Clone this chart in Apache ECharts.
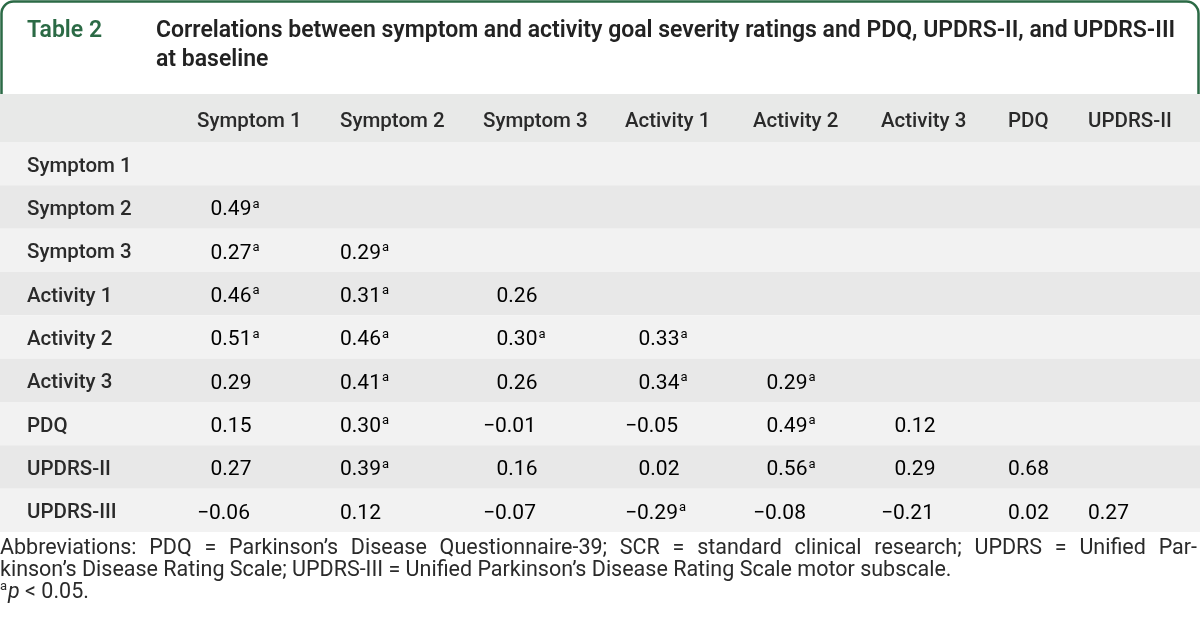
<!DOCTYPE html>
<html><head><meta charset="utf-8">
<script src="https://cdn.jsdelivr.net/npm/echarts@6/dist/echarts.min.js"></script>
<style>html,body{margin:0;padding:0;background:#fff}#c{width:1200px;height:635px}</style>
</head><body><div id="c"></div>
<script>
// ---- data ----
const tableLabel = 'Table 2';
const titleLines = ['Correlations between symptom and activity goal severity ratings and PDQ, UPDRS-II, and UPDRS-III', 'at baseline'];
const colLabels = ['Symptom 1', 'Symptom 2', 'Symptom 3', 'Activity 1', 'Activity 2', 'Activity 3', 'PDQ', 'UPDRS-II'];
const rowLabels = ['Symptom 1', 'Symptom 2', 'Symptom 3', 'Activity 1', 'Activity 2', 'Activity 3', 'PDQ', 'UPDRS-II', 'UPDRS-III'];
// lower-triangle correlation values by row
const rowValues = [
  [],
  [0.49],
  [0.27, 0.29],
  [0.46, 0.31, 0.26],
  [0.51, 0.46, 0.30, 0.33],
  [0.29, 0.41, 0.26, 0.34, 0.29],
  [0.15, 0.30, -0.01, -0.05, 0.49, 0.12],
  [0.27, 0.39, 0.16, 0.02, 0.56, 0.29, 0.68],
  [-0.06, 0.12, -0.07, -0.29, -0.08, -0.21, 0.02, 0.27]
];
// significance flags (p < 0.05) by row
const rowSig = [
  [],
  [1],
  [1, 1],
  [1, 1, 0],
  [1, 1, 1, 1],
  [0, 1, 0, 1, 1],
  [0, 1, 0, 0, 1, 0],
  [0, 1, 0, 0, 1, 0, 0],
  [0, 0, 0, 1, 0, 0, 0, 0]
];
const footLines = [
  'Abbreviations: PDQ = Parkinson\u2019s Disease Questionnaire-39; SCR = standard clinical research; UPDRS = Unified Par-',
  'kinson\u2019s Disease Rating Scale; UPDRS-III = Unified Parkinson\u2019s Disease Rating Scale motor subscale.'
];
const sigNote = ' < 0.05.';

// ---- layout ----
const W = 1200;
const colLeft = [197, 340, 483, 625, 753, 881, 1008, 1088];
const GREEN = '#2b6a45', TXT = '#2a2a2a';
const FONT = 'Roboto, "Liberation Sans", sans-serif';
const NUM_SIZE = 21;

const colHasNeg = colLabels.map((_, c) => rowValues.some(r => r[c] !== undefined && r[c] < 0));
const cells = [];
rowValues.forEach((r, ri) => r.forEach((v, ci) => cells.push([ci, ri, v, rowSig[ri][ci]])));

const mctx = document.createElement('canvas').getContext('2d');
mctx.font = NUM_SIZE + 'px ' + FONT;
const minusW = mctx.measureText('\u2212').width + 1.5;

function fmt(v) { return (v < 0 ? '\u2212' : '') + Math.abs(v).toFixed(2); }

const chart = echarts.init(document.getElementById('c'), null, { renderer: 'canvas' });

// justified footnote line
const footFont = '21.5px ' + FONT;
function justified(text, y, width) {
  mctx.font = footFont;
  const words = text.split(' ');
  const tot = words.reduce((a, w) => a + mctx.measureText(w).width, 0);
  const gap = (width - tot) / (words.length - 1);
  let x = 0; const out = [];
  words.forEach(w => {
    out.push({ type: 'text', x: x, y: y, style: { text: w, font: footFont, fill: TXT, textVerticalAlign: 'middle' } });
    x += mctx.measureText(w).width + gap;
  });
  return out;
}

const titleFont = '600 23px ' + FONT;
const graphics = [
  { type: 'rect', z: 1, shape: { x: 1.5, y: 1.5, width: W - 3, height: 120, r: [12, 12, 0, 0] }, style: { fill: '#fff', stroke: GREEN, lineWidth: 2.5 } },
  { type: 'rect', z: 2, shape: { x: 0, y: 94, width: W, height: 48 }, style: { fill: '#e8e9e8' } },
  { type: 'text', z: 3, x: 27, y: 31, style: { text: tableLabel, font: titleFont, fill: GREEN, textVerticalAlign: 'middle' } },
  { type: 'text', z: 3, x: 156, y: 31, style: { text: titleLines[0], font: titleFont, fill: '#222', textVerticalAlign: 'middle' } },
  { type: 'text', z: 3, x: 156, y: 60, style: { text: titleLines[1], font: titleFont, fill: '#222', textVerticalAlign: 'middle' } }
];
colLabels.forEach((l, i) => graphics.push({ type: 'text', z: 3, x: colLeft[i], y: 122, style: { text: l, font: '500 20.5px ' + FONT, fill: TXT, textVerticalAlign: 'middle' } }));
justified(footLines[0], 549, W - 3).forEach(g => graphics.push(g));
graphics.push({ type: 'text', x: 0, y: 571, style: { text: footLines[1], font: footFont, fill: TXT, textVerticalAlign: 'middle' } });
mctx.font = 'italic ' + footFont;
const pW = mctx.measureText('p').width;
graphics.push({ type: 'text', x: 0, y: 587, style: { text: 'a', font: '13px ' + FONT, fill: TXT, textVerticalAlign: 'middle' } });
graphics.push({ type: 'text', x: 8, y: 593, style: { text: 'p', font: 'italic ' + footFont, fill: TXT, textVerticalAlign: 'middle' } });
graphics.push({ type: 'text', x: 8 + pW, y: 593, style: { text: sigNote, font: footFont, fill: TXT, textVerticalAlign: 'middle' } });

chart.setOption({
  animation: false,
  backgroundColor: '#fff',
  grid: { left: 0, right: 0, top: 142, bottom: 103 },
  xAxis: { type: 'value', min: 0, max: W, show: false },
  yAxis: {
    type: 'category', data: rowLabels, inverse: true,
    axisLine: { show: false }, axisTick: { show: false },
    splitLine: { show: false },
    splitArea: { show: true, areaStyle: { color: ['#f2f2f2', '#e8e8e8'] } },
    axisLabel: {
      inside: true, margin: 27,
      formatter: v => '{l|' + v + '}',
      rich: { l: { color: TXT, fontFamily: FONT, fontWeight: 500, fontSize: 20.5, padding: [6, 0, 0, 0] } }
    },
    z: 5
  },
  graphic: graphics,
  series: [{
    type: 'custom',
    data: cells,
    z: 10,
    renderItem: function (params, api) {
      const c = api.value(0), r = api.value(1), v = api.value(2), s = api.value(3);
      const p = api.coord([colLeft[c], r]);
      const x = p[0] + ((colHasNeg[c] && v >= 0) ? minusW : 0);
      let txt = '{n|' + fmt(v) + '}';
      if (s) txt += '{s|a}';
      return {
        type: 'text', x: x, y: p[1] + 3,
        style: {
          text: txt, textVerticalAlign: 'middle', textAlign: 'left',
          rich: {
            n: { fontFamily: FONT, fontSize: NUM_SIZE, color: TXT, lineHeight: 24 },
            s: { fontFamily: FONT, fontSize: 13, color: TXT, lineHeight: 24, verticalAlign: 'top', padding: [0, 0, 0, 1] }
          }
        }
      };
    }
  }]
});
</script></body></html>
